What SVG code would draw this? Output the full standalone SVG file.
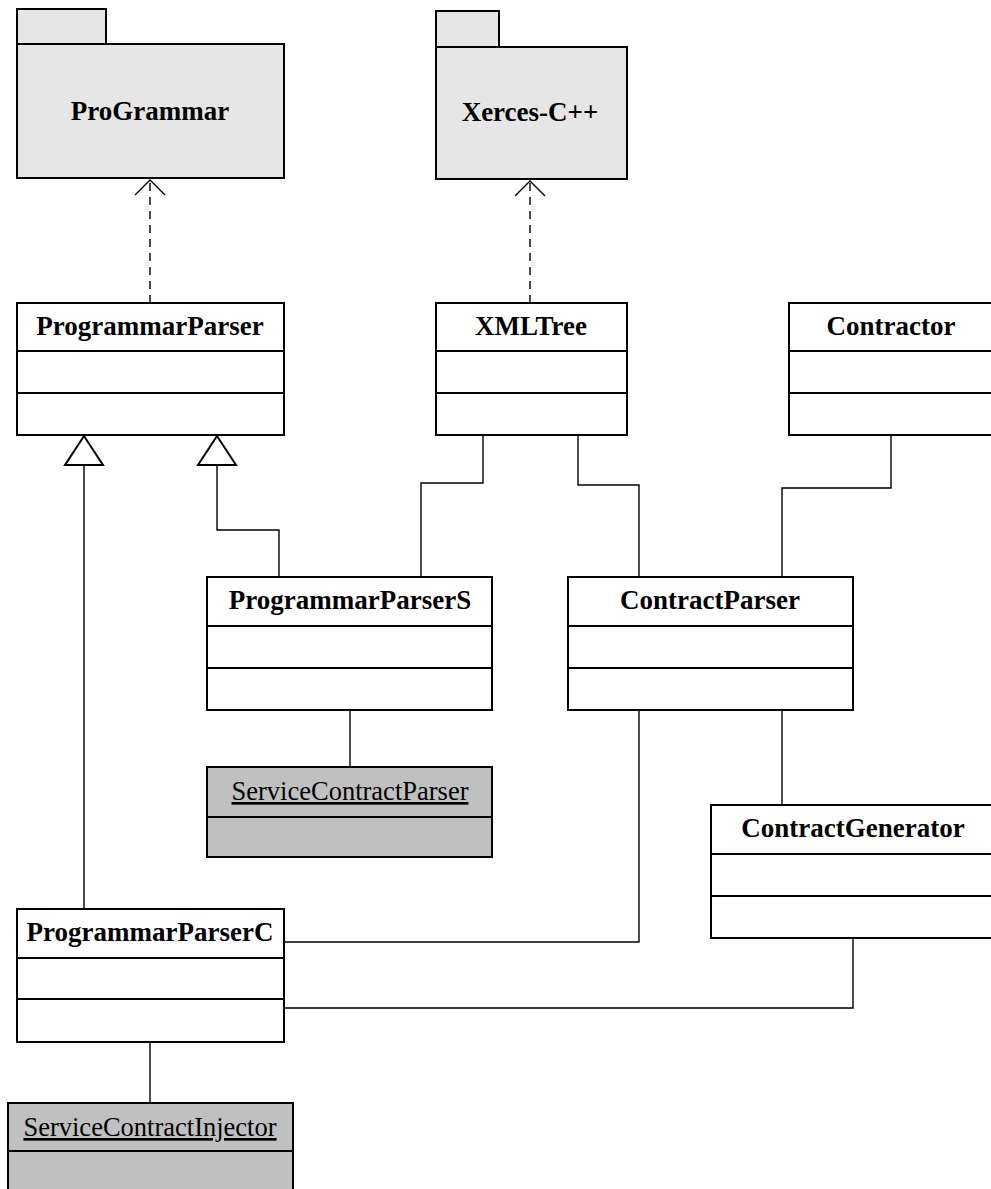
<svg xmlns="http://www.w3.org/2000/svg" width="991" height="1189" viewBox="0 0 991 1189">
<style>
.box{fill:#ffffff;stroke:#000;stroke-width:2}
.pkg{fill:#e6e6e6;stroke:#000;stroke-width:2}
.obj{fill:#c0c0c0;stroke:#000;stroke-width:2}
.div{stroke:#000;stroke-width:2;fill:none}
.t{font-family:"Liberation Serif","Times New Roman",serif;font-size:27px;font-weight:bold;text-anchor:middle;fill:#000}
.u{font-family:"Liberation Serif","Times New Roman",serif;font-size:26.5px;text-anchor:middle;fill:#000;text-decoration:underline}
.c{stroke:#000;stroke-width:1.4;fill:none}
.d{stroke:#000;stroke-width:1.4;fill:none;stroke-dasharray:8,6}
.gen{fill:#fff;stroke:#000;stroke-width:2}
</style>
<rect width="991" height="1189" fill="#fff"/>
<g id="connectors">
  <line class="d" x1="150" y1="303" x2="150" y2="180"/>
  <polyline class="c" points="135,195 150,180 165,195"/>
  <line class="d" x1="530" y1="303" x2="530" y2="181"/>
  <polyline class="c" points="515,196 530,181 545,196"/>
  <polyline class="c" points="84,465 84,909"/>
  <polygon class="gen" points="84,436 65,465 103,465"/>
  <polyline class="c" points="217,465 217,530 279,530 279,577"/>
  <polygon class="gen" points="217,436 198,465 236,465"/>
  <polyline class="c" points="483,435 483,483 421,483 421,577"/>
  <polyline class="c" points="578,435 578,485 639,485 639,577"/>
  <polyline class="c" points="891,435 891,488 782,488 782,577"/>
  <line class="c" x1="350" y1="710" x2="350" y2="767"/>
  <line class="c" x1="782" y1="710" x2="782" y2="805"/>
  <polyline class="c" points="639,710 639,942 284,942"/>
  <polyline class="c" points="853,938 853,1008 284,1008"/>
  <line class="c" x1="150" y1="1042" x2="150" y2="1103"/>
</g>
<g id="ProGrammar">
  <rect class="pkg" x="17" y="9" width="89" height="35"/>
  <rect class="pkg" x="17" y="44" width="267" height="134"/>
  <text class="t" x="150" y="120">ProGrammar</text>
</g>
<g id="Xerces">
  <rect class="pkg" x="436" y="11" width="63" height="36"/>
  <rect class="pkg" x="436" y="47" width="191" height="132"/>
  <text class="t" x="530" y="121">Xerces-C++</text>
</g>
<g id="ProgrammarParser">
  <rect class="box" x="17" y="303" width="267" height="132"/>
  <line class="div" x1="17" y1="351" x2="284" y2="351"/>
  <line class="div" x1="17" y1="393" x2="284" y2="393"/>
  <text class="t" x="150" y="335">ProgrammarParser</text>
</g>
<g id="XMLTree">
  <rect class="box" x="436" y="303" width="191" height="132"/>
  <line class="div" x1="436" y1="351" x2="627" y2="351"/>
  <line class="div" x1="436" y1="393" x2="627" y2="393"/>
  <text class="t" x="531" y="335">XMLTree</text>
</g>
<g id="Contractor">
  <rect class="box" x="789" y="303" width="204" height="132"/>
  <line class="div" x1="789" y1="351" x2="993" y2="351"/>
  <line class="div" x1="789" y1="393" x2="993" y2="393"/>
  <text class="t" x="891" y="335">Contractor</text>
</g>
<g id="ProgrammarParserS">
  <rect class="box" x="207" y="577" width="285" height="133"/>
  <line class="div" x1="207" y1="626" x2="492" y2="626"/>
  <line class="div" x1="207" y1="668" x2="492" y2="668"/>
  <text class="t" x="350" y="609">ProgrammarParserS</text>
</g>
<g id="ContractParser">
  <rect class="box" x="568" y="577" width="285" height="133"/>
  <line class="div" x1="568" y1="626" x2="853" y2="626"/>
  <line class="div" x1="568" y1="668" x2="853" y2="668"/>
  <text class="t" x="710" y="609">ContractParser</text>
</g>
<g id="ServiceContractParser">
  <rect class="obj" x="207" y="767" width="285" height="90"/>
  <line class="div" x1="207" y1="817" x2="492" y2="817"/>
  <text class="u" x="350" y="800">ServiceContractParser</text>
</g>
<g id="ContractGenerator">
  <rect class="box" x="711" y="805" width="284" height="133"/>
  <line class="div" x1="711" y1="854" x2="995" y2="854"/>
  <line class="div" x1="711" y1="896" x2="995" y2="896"/>
  <text class="t" x="853" y="837">ContractGenerator</text>
</g>
<g id="ProgrammarParserC">
  <rect class="box" x="17" y="909" width="267" height="133"/>
  <line class="div" x1="17" y1="958" x2="284" y2="958"/>
  <line class="div" x1="17" y1="999" x2="284" y2="999"/>
  <text class="t" x="150" y="941">ProgrammarParserC</text>
</g>
<g id="ServiceContractInjector">
  <rect class="obj" x="8" y="1103" width="285" height="100"/>
  <line class="div" x1="8" y1="1151" x2="293" y2="1151"/>
  <text class="u" x="150" y="1136">ServiceContractInjector</text>
</g>
</svg>
